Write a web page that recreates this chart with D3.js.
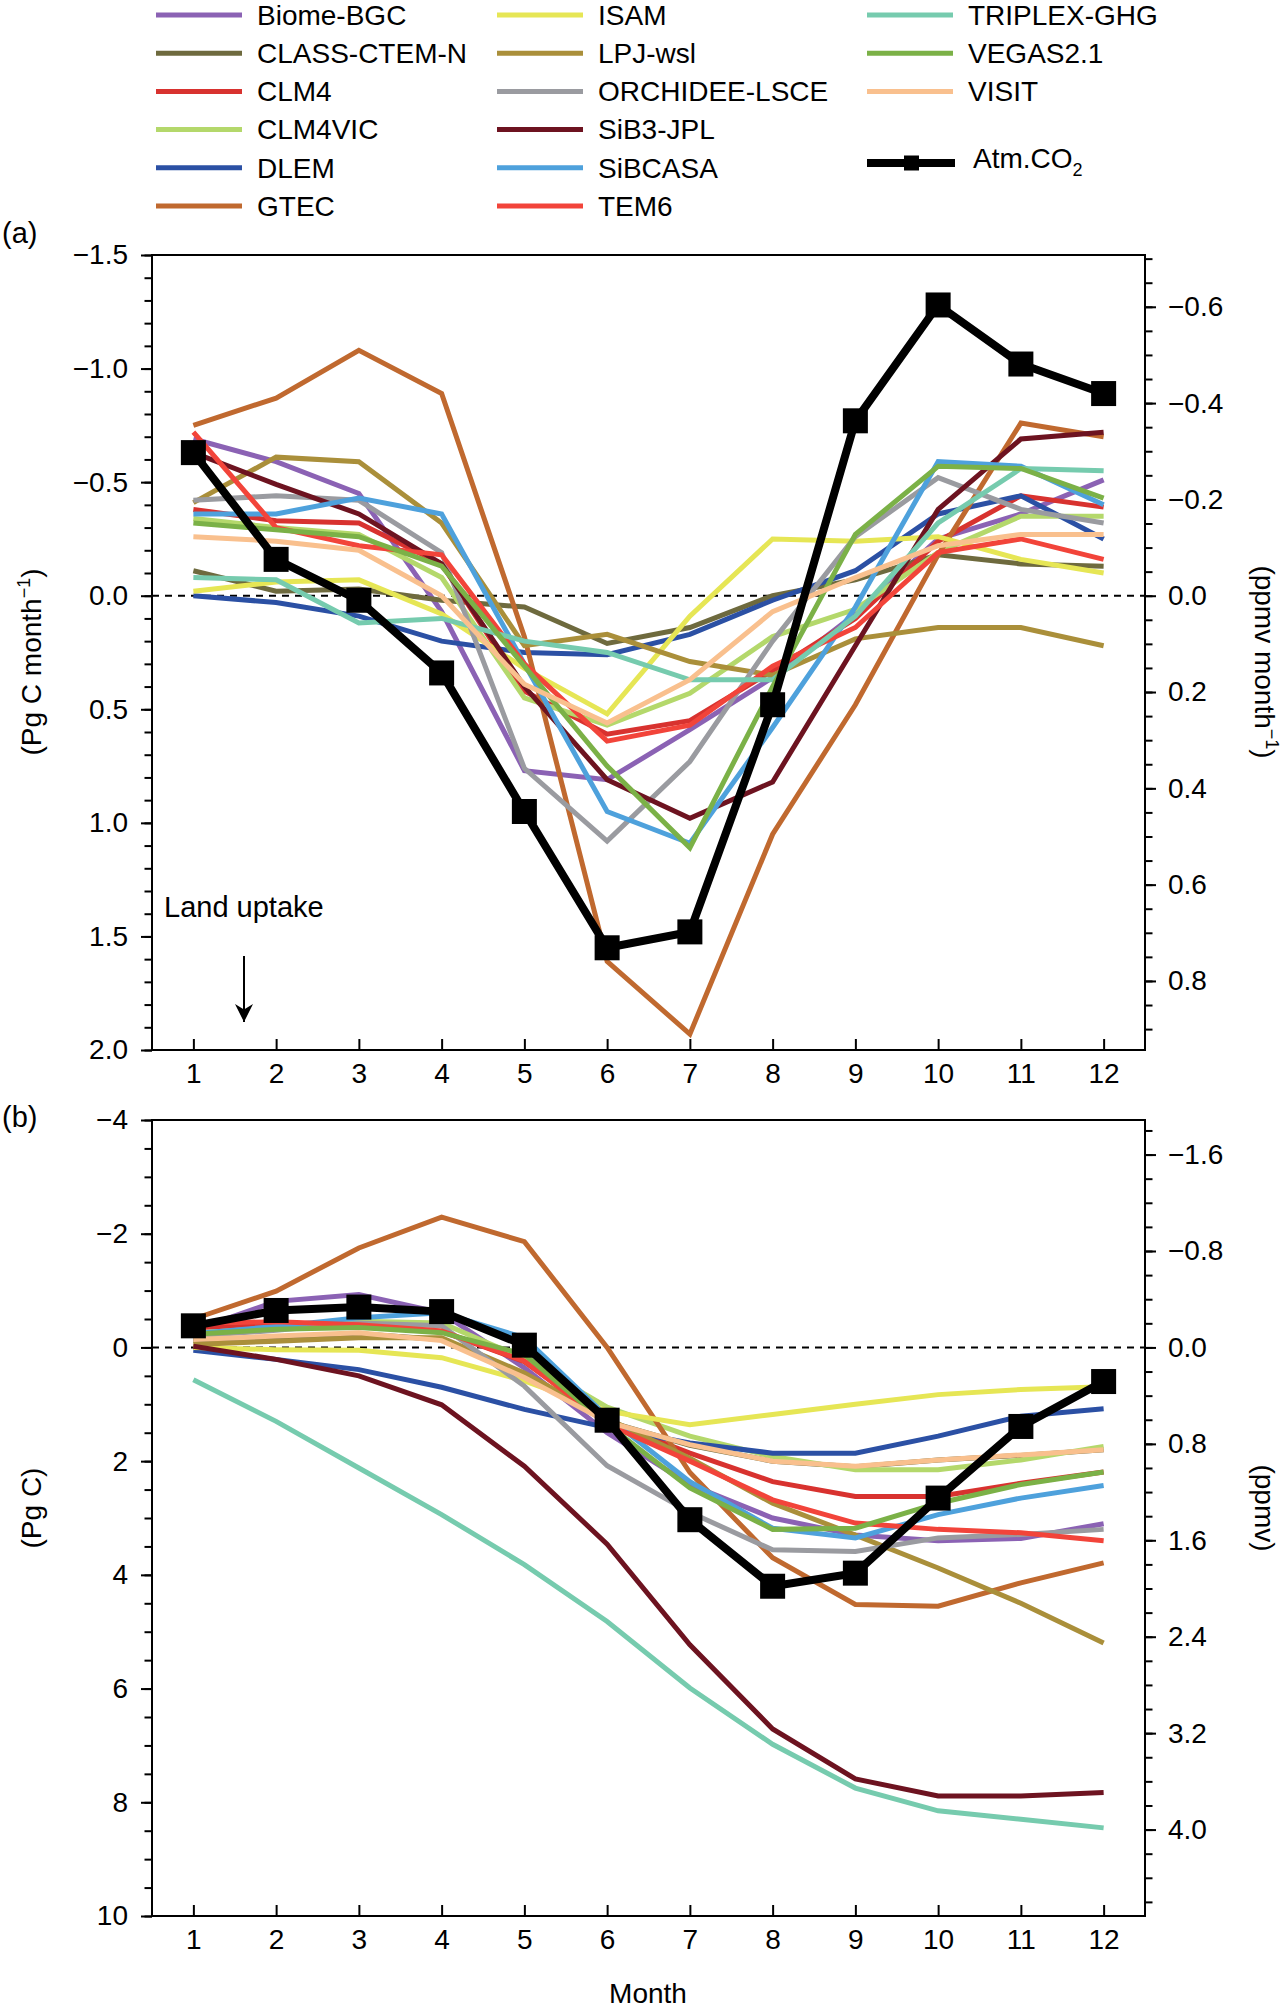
<!DOCTYPE html>
<html>
<head>
<meta charset="utf-8">
<script src="https://cdn.jsdelivr.net/npm/d3@7"></script>
<style>
    body { margin: 0; background: #fff; }
    svg text { font-family: "Liberation Sans", Arial, Helvetica, sans-serif; fill: #000; }
</style>
</head>
<body>
<svg id="drawing_region"></svg>
<script>
// ---- data ----
const months = [1, 2, 3, 4, 5, 6, 7, 8, 9, 10, 11, 12];

const models = ['Biome-BGC', 'CLASS-CTEM-N', 'CLM4', 'CLM4VIC', 'DLEM', 'GTEC',
    'ISAM', 'LPJ-wsl', 'ORCHIDEE-LSCE', 'SiB3-JPL', 'SiBCASA', 'TEM6',
    'TRIPLEX-GHG', 'VEGAS2.1', 'VISIT'];

// (a) monthly net flux, Pg C month-1 (same order as models)
const monthlyFlux = [
    [-0.69, -0.59, -0.45, 0.07, 0.77, 0.81, 0.59, 0.36, 0.08, -0.25, -0.36, -0.51],
    [-0.11, -0.02, -0.03, 0.02, 0.05, 0.21, 0.14, 0.0, -0.07, -0.18, -0.14, -0.13],
    [-0.38, -0.33, -0.32, -0.14, 0.42, 0.61, 0.55, 0.33, 0.10, -0.24, -0.44, -0.39],
    [-0.34, -0.30, -0.27, -0.08, 0.45, 0.57, 0.43, 0.18, 0.06, -0.19, -0.35, -0.35],
    [0.0, 0.03, 0.09, 0.20, 0.25, 0.26, 0.17, 0.02, -0.11, -0.36, -0.44, -0.25],
    [-0.75, -0.87, -1.08, -0.89, 0.18, 1.61, 1.93, 1.05, 0.48, -0.18, -0.76, -0.70],
    [-0.02, -0.06, -0.07, 0.08, 0.32, 0.52, 0.09, -0.25, -0.24, -0.26, -0.16, -0.10],
    [-0.41, -0.61, -0.59, -0.32, 0.22, 0.17, 0.29, 0.35, 0.19, 0.14, 0.14, 0.22],
    [-0.42, -0.44, -0.42, -0.19, 0.76, 1.08, 0.73, 0.20, -0.26, -0.52, -0.38, -0.32],
    [-0.63, -0.49, -0.36, -0.14, 0.40, 0.81, 0.98, 0.82, 0.22, -0.38, -0.69, -0.72],
    [-0.36, -0.36, -0.43, -0.36, 0.30, 0.95, 1.09, 0.58, 0.05, -0.59, -0.57, -0.40],
    [-0.72, -0.30, -0.22, -0.18, 0.30, 0.64, 0.57, 0.31, 0.14, -0.19, -0.25, -0.16],
    [-0.08, -0.07, 0.12, 0.10, 0.20, 0.25, 0.37, 0.37, 0.09, -0.32, -0.56, -0.55],
    [-0.32, -0.29, -0.26, -0.13, 0.31, 0.75, 1.11, 0.40, -0.27, -0.57, -0.56, -0.43],
    [-0.26, -0.24, -0.20, 0.0, 0.39, 0.56, 0.37, 0.07, -0.08, -0.22, -0.27, -0.27]
];

// (b) cumulative flux, Pg C (same order as models)
const cumulativeFlux = [
    [-0.30, -0.81, -0.93, -0.61, 0.36, 1.50, 2.41, 3.00, 3.30, 3.40, 3.36, 3.10],
    [-0.12, -0.18, -0.24, -0.14, 0.50, 1.30, 1.72, 2.00, 2.10, 1.98, 1.90, 1.80],
    [-0.35, -0.38, -0.38, -0.28, 0.25, 1.30, 1.86, 2.36, 2.62, 2.62, 2.39, 2.19],
    [-0.25, -0.35, -0.46, -0.43, 0.20, 1.05, 1.56, 1.92, 2.15, 2.15, 1.98, 1.74],
    [0.05, 0.21, 0.39, 0.70, 1.09, 1.41, 1.68, 1.86, 1.86, 1.56, 1.21, 1.08],
    [-0.50, -0.99, -1.75, -2.29, -1.86, 0.0, 2.20, 3.70, 4.52, 4.55, 4.14, 3.79],
    [0.0, 0.04, 0.05, 0.18, 0.59, 1.12, 1.36, 1.18, 1.00, 0.83, 0.74, 0.69],
    [-0.05, -0.11, -0.17, -0.17, 0.45, 1.25, 1.95, 2.74, 3.30, 3.88, 4.50, 5.20],
    [-0.20, -0.30, -0.43, -0.38, 0.68, 2.08, 2.90, 3.56, 3.59, 3.35, 3.29, 3.20],
    [-0.02, 0.21, 0.50, 1.01, 2.09, 3.46, 5.23, 6.71, 7.59, 7.89, 7.89, 7.83],
    [-0.24, -0.37, -0.52, -0.61, -0.17, 1.22, 2.36, 3.18, 3.35, 2.94, 2.65, 2.43],
    [-0.43, -0.45, -0.40, -0.29, 0.24, 1.35, 2.00, 2.68, 3.09, 3.20, 3.26, 3.40],
    [0.57, 1.30, 2.12, 2.94, 3.82, 4.82, 5.99, 6.98, 7.75, 8.15, 8.30, 8.45],
    [-0.23, -0.32, -0.35, -0.26, 0.12, 1.35, 2.47, 3.20, 3.18, 2.74, 2.41, 2.19],
    [-0.14, -0.20, -0.26, -0.12, 0.53, 1.31, 1.71, 2.00, 2.09, 1.98, 1.89, 1.80]
];

const atmMonthly = [-0.63, -0.16, 0.02, 0.34, 0.95, 1.55, 1.48, 0.48, -0.77, -1.28, -1.02, -0.89];
const atmCumulative = [-0.38, -0.65, -0.71, -0.63, -0.04, 1.28, 3.03, 4.20, 3.97, 2.65, 1.39, 0.60];

const fluxTicks = [-1.5, -1.0, -0.5, 0.0, 0.5, 1.0, 1.5, 2.0];
const fluxPpmTicks = [-0.6, -0.4, -0.2, 0.0, 0.2, 0.4, 0.6, 0.8];
const poolTicks = [-4, -2, 0, 2, 4, 6, 8, 10];
const poolPpmTicks = [-1.6, -0.8, 0.0, 0.8, 1.6, 2.4, 3.2, 4.0];

// ---- styles ----
const modelColors = ['#8b62b4', '#6e6a3e', '#d8322f', '#b4d86b', '#2b50a4', '#c0692f',
    '#e6e655', '#aa8f3a', '#9a9ba0', '#6d1320', '#4ea1dc', '#f2443a',
    '#76cbae', '#7bb147', '#f9c08e'];

const PGC_PER_PPM = 2.12;

class SeasonalPanel {

    constructor(config, series, atm) {
        this.config = config;
        this.series = series;
        this.atm = atm;
        this.init();
    }

    init() {
        let self = this;
        const c = self.config;

        self.chart = d3.select(c.parent).append('g');

        self.xscale = d3.scaleLinear().range([c.left, c.right]);
        self.yscale = d3.scaleLinear().range([c.top, c.bottom]);
        self.ppmscale = d3.scaleLinear().range([c.top, c.bottom]);

        self.line = d3.line()
            .x((d, i) => self.xscale(months[i]))
            .y(d => self.yscale(d));
    }

    update() {
        let self = this;
        const c = self.config;
        self.xscale.domain([0.5, 12.5]);
        self.yscale.domain(c.yDomain);
        self.ppmscale.domain(c.yDomain.map(v => v / PGC_PER_PPM));
        self.render();
    }

    minorValues(domain, step) {
        const lo = Math.ceil(Math.min(...domain) / step - 1e-6);
        const hi = Math.floor(Math.max(...domain) / step + 1e-6);
        return d3.range(lo, hi + 1).map(k => +(k * step).toFixed(3));
    }

    styleAxis(g, size) {
        g.select('.domain').remove();
        g.selectAll('line').attr('stroke', '#000').attr('stroke-width', 2);
        g.selectAll('text')
            .attr('font-size', size)
            .attr('font-family', '"Liberation Sans", Arial, Helvetica, sans-serif');
    }

    render() {
        let self = this;
        const c = self.config;

        // zero line
        self.chart.append('line')
            .attr('x1', c.left).attr('x2', c.right)
            .attr('y1', self.yscale(0)).attr('y2', self.yscale(0))
            .attr('stroke', '#000')
            .attr('stroke-width', 2)
            .attr('stroke-dasharray', '7,6');

        // model lines
        self.chart.append('g')
            .selectAll('path')
            .data(self.series)
            .join('path')
            .attr('d', d => self.line(d))
            .attr('fill', 'none')
            .attr('stroke', (d, i) => modelColors[i])
            .attr('stroke-width', 5);

        // atmospheric CO2
        self.chart.append('path')
            .attr('d', self.line(self.atm))
            .attr('fill', 'none')
            .attr('stroke', '#000')
            .attr('stroke-width', 8);

        self.chart.append('g')
            .selectAll('rect')
            .data(self.atm)
            .join('rect')
            .attr('x', (d, i) => self.xscale(months[i]) - 12.5)
            .attr('y', d => self.yscale(d) - 12.5)
            .attr('width', 25)
            .attr('height', 25)
            .attr('fill', '#000');

        // frame
        self.chart.append('rect')
            .attr('x', c.left).attr('y', c.top)
            .attr('width', c.right - c.left).attr('height', c.bottom - c.top)
            .attr('fill', 'none')
            .attr('stroke', '#000')
            .attr('stroke-width', 2);

        // left axis
        self.chart.append('g')
            .attr('transform', `translate(${c.left},0)`)
            .call(d3.axisLeft(self.yscale).tickValues(self.minorValues(c.yDomain, c.yMinor))
                .tickSize(7.5).tickFormat(''))
            .call(g => self.styleAxis(g, 28));
        self.chart.append('g')
            .attr('transform', `translate(${c.left},0)`)
            .call(d3.axisLeft(self.yscale).tickValues(c.yTicks)
                .tickSize(11).tickPadding(13).tickFormat(d3.format(c.yFormat)))
            .call(g => self.styleAxis(g, 28));

        // right axis (ppmv)
        self.chart.append('g')
            .attr('transform', `translate(${c.right},0)`)
            .call(d3.axisRight(self.ppmscale).tickValues(self.minorValues(self.ppmscale.domain(), c.ppmMinor))
                .tickSize(7.5).tickFormat(''))
            .call(g => self.styleAxis(g, 28));
        self.chart.append('g')
            .attr('transform', `translate(${c.right},0)`)
            .call(d3.axisRight(self.ppmscale).tickValues(c.ppmTicks)
                .tickSize(11).tickPadding(12).tickFormat(d3.format('.1f')))
            .call(g => self.styleAxis(g, 28));

        // month axis, ticks pointing inward
        self.chart.append('g')
            .attr('transform', `translate(0,${c.bottom})`)
            .call(d3.axisBottom(self.xscale).tickValues(months)
                .tickSizeInner(-11).tickSizeOuter(0).tickPadding(13))
            .call(g => self.styleAxis(g, 28));

        // axis titles
        const leftTitle = self.chart.append('text')
            .attr('transform', `translate(${c.leftTitleX},${c.titleY}) rotate(-90)`)
            .attr('text-anchor', 'middle')
            .attr('font-size', 28);
        self.addUnit(leftTitle, c.leftTitle);

        const rightTitle = self.chart.append('text')
            .attr('transform', `translate(${c.rightTitleX},${c.titleY}) rotate(90)`)
            .attr('text-anchor', 'middle')
            .attr('font-size', 28);
        self.addUnit(rightTitle, c.rightTitle);

        self.chart.append('text')
            .attr('x', 2)
            .attr('y', c.tagY)
            .attr('font-size', 29)
            .text(c.tag);
    }

    addUnit(text, parts) {
        text.append('tspan').text(parts[0]);
        if (parts.length > 1) {
            text.append('tspan').attr('dy', -11).attr('font-size', 18).text(parts[1]);
            text.append('tspan').attr('dy', 11).text(parts[2]);
        }
    }
}

const svg = d3.select('#drawing_region')
    .attr('width', 1285)
    .attr('height', 2010);

const panelA = new SeasonalPanel({
    parent: '#drawing_region',
    left: 152, right: 1145, top: 255, bottom: 1050,
    yDomain: [-1.5, 2.0], yTicks: fluxTicks, yMinor: 0.1, yFormat: '.1f',
    ppmTicks: fluxPpmTicks, ppmMinor: 0.05,
    leftTitle: ['(Pg C month', '\u22121', ')'],
    rightTitle: ['(ppmv month', '\u22121', ')'],
    leftTitleX: 41, rightTitleX: 1255, titleY: 662,
    tag: '(a)', tagY: 243
}, monthlyFlux, atmMonthly);
panelA.update();

const panelB = new SeasonalPanel({
    parent: '#drawing_region',
    left: 152, right: 1145, top: 1120, bottom: 1916,
    yDomain: [-4, 10], yTicks: poolTicks, yMinor: 0.5, yFormat: 'd',
    ppmTicks: poolPpmTicks, ppmMinor: 0.2,
    leftTitle: ['(Pg C)'],
    rightTitle: ['(ppmv)'],
    leftTitleX: 41, rightTitleX: 1255, titleY: 1508,
    tag: '(b)', tagY: 1127
}, cumulativeFlux, atmCumulative);
panelB.update();

// "Land uptake" note with arrow
svg.append('text')
    .attr('x', 164)
    .attr('y', 917)
    .attr('font-size', 29)
    .text('Land uptake');

svg.append('defs').append('marker')
    .attr('id', 'arrowhead')
    .attr('viewBox', '0 0 10 10')
    .attr('refX', 10).attr('refY', 5)
    .attr('markerWidth', 18).attr('markerHeight', 18)
    .attr('markerUnits', 'userSpaceOnUse')
    .attr('orient', 'auto')
    .append('path')
    .attr('d', 'M0,0 L10,5 L0,10 L3,5 Z')
    .attr('fill', '#000');

svg.append('line')
    .attr('x1', 244).attr('x2', 244)
    .attr('y1', 956).attr('y2', 1022)
    .attr('stroke', '#000')
    .attr('stroke-width', 2)
    .attr('marker-end', 'url(#arrowhead)');

// x title
svg.append('text')
    .attr('x', 648)
    .attr('y', 2003)
    .attr('text-anchor', 'middle')
    .attr('font-size', 28)
    .text('Month');

// legend: three columns of six rows
const legendCols = [156, 497, 867];
const legend = svg.append('g');

models.forEach((name, i) => {
    const col = Math.floor(i / 6);
    const row = i % 6;
    const x0 = legendCols[col];
    const y0 = 15 + row * 38.2;
    legend.append('line')
        .attr('x1', x0).attr('x2', x0 + 86)
        .attr('y1', y0).attr('y2', y0)
        .attr('stroke', modelColors[i])
        .attr('stroke-width', 5);
    legend.append('text')
        .attr('x', x0 + 101)
        .attr('y', y0)
        .attr('dy', '0.35em')
        .attr('font-size', 28)
        .text(name);
});

const atmY = 163;
legend.append('line')
    .attr('x1', legendCols[2]).attr('x2', legendCols[2] + 88)
    .attr('y1', atmY).attr('y2', atmY)
    .attr('stroke', '#000')
    .attr('stroke-width', 8);
legend.append('rect')
    .attr('x', legendCols[2] + 37).attr('y', atmY - 7.5)
    .attr('width', 15).attr('height', 15)
    .attr('fill', '#000');
const atmLabel = legend.append('text')
    .attr('x', legendCols[2] + 106)
    .attr('y', 168)
    .attr('font-size', 28);
atmLabel.append('tspan').text('Atm.CO');
atmLabel.append('tspan').attr('dy', 8).attr('font-size', 18).text('2');
</script>
</body>
</html>
